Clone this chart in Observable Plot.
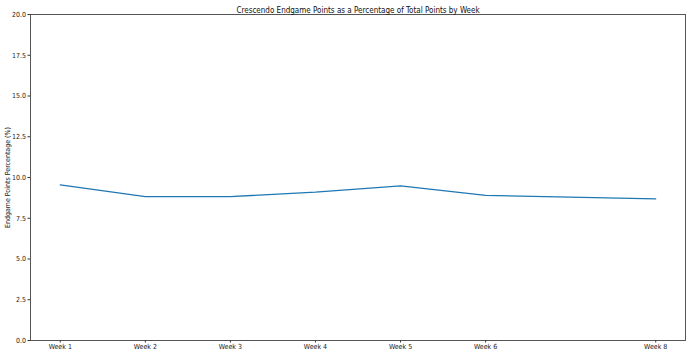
<!DOCTYPE html>
<html>
<head>
<meta charset="utf-8">
<script src="https://cdn.jsdelivr.net/npm/d3@7"></script>
<script src="https://cdn.jsdelivr.net/npm/@observablehq/plot@0.6"></script>
<style>
  html, body { margin: 0; padding: 0; background: #fff; }
  svg { display: block; }
</style>
</head>
<body>
<div id="chart"></div>
<script>
const title = "Crescendo Endgame Points as a Percentage of Total Points by Week";
const yLabel = "Endgame Points Percentage (%)";
const weeks = [1, 2, 3, 4, 5, 6, 8];
const weekLabels = ["Week 1", "Week 2", "Week 3", "Week 4", "Week 5", "Week 6", "Week 8"];
const percentages = [9.55, 8.83, 8.83, 9.10, 9.49, 8.90, 8.69];
const yTicks = [0, 2.5, 5, 7.5, 10, 12.5, 15, 17.5, 20];

const data = weeks.map((w, i) => ({week: w, pct: percentages[i]}));

const font = "'DejaVu Sans Condensed', 'DejaVu Sans', sans-serif";
const chart = Plot.plot({
  width: 690,
  height: 353,
  marginLeft: 30,
  marginRight: 5,
  marginTop: 14,
  marginBottom: 13,
  style: {fontFamily: font, fontSize: "7px", color: "#222", background: "#fff"},
  x: {domain: [0.65, 8.35]},
  y: {domain: [0, 20]},
  marks: [
    Plot.axisX({ticks: weeks, tickFormat: (d) => weekLabels[weeks.indexOf(d)], tickSize: 2.5, tickPadding: 1.5, label: null, stroke: "#333"}),
    Plot.axisY({ticks: yTicks, tickFormat: d3.format(".1f"), tickSize: 2.5, tickPadding: 2, label: yLabel, labelAnchor: "center", labelArrow: "none", labelOffset: 25, stroke: "#333"}),
    Plot.line(data, {x: "week", y: "pct", stroke: "#1f77b4", strokeWidth: 1.3}),
    Plot.frame({stroke: "#444", strokeWidth: 0.9}),
    Plot.text([title], {frameAnchor: "top", dy: -7.5, fontSize: 8, fill: "#111"})
  ]
});
document.getElementById("chart").append(chart);
</script>
</body>
</html>
